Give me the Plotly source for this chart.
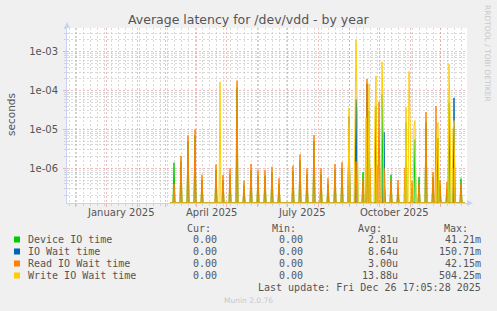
import plotly.graph_objects as go
import pandas as pd
import numpy as np

# ---------------- data ----------------
x_range = ["2024-11-23", "2025-12-28"]
data_start, data_end = "2025-03-06", "2025-12-26"

device_dates = ["2025-03-10", "2025-03-17", "2025-03-24", "2025-03-31", "2025-04-07", "2025-04-21",
                "2025-04-28", "2025-05-05", "2025-05-12", "2025-05-19", "2025-05-26", "2025-06-02",
                "2025-06-09", "2025-06-16", "2025-06-23", "2025-07-07", "2025-07-14", "2025-07-21",
                "2025-07-28", "2025-08-04", "2025-08-11", "2025-08-18", "2025-08-25", "2025-09-01",
                "2025-09-08", "2025-09-09", "2025-09-15", "2025-09-19", "2025-09-21", "2025-09-28",
                "2025-10-04", "2025-10-06", "2025-10-13", "2025-10-20", "2025-10-28", "2025-11-03",
                "2025-11-06", "2025-11-10", "2025-11-17", "2025-11-24", "2025-11-29", "2025-12-01",
                "2025-12-08", "2025-12-10", "2025-12-15", "2025-12-22"]
device_vals = [1.4e-6, 1.5e-6, 5e-6, 7e-6, 5e-7, 9e-7,
               5e-7, 7e-7, 1.2e-4, 3.5e-7, 9e-7, 6.5e-7,
               6.5e-7, 8e-7, 4e-7, 8.5e-7, 1.6e-6, 7e-7,
               5e-6, 7e-7, 4e-7, 9e-7, 1.0e-6, 8e-6,
               5e-5, 3e-5, 8e-7, 5e-5, 3e-5, 4e-5,
               8e-5, 1e-6, 6.9e-7, 3e-7, 1.5e-5, 3e-7,
               5.5e-6, 6e-7, 1.5e-5, 6e-7, 6e-6, 3.5e-7,
               3e-7, 5e-5, 1e-5, 5.5e-7]

iowait_dates = ["2025-09-01", "2025-09-08", "2025-09-19", "2025-10-06", "2025-12-15"]
iowait_vals = [2.2e-5, 6e-5, 1.5e-4, 8.5e-6, 6.5e-5]

read_dates = ["2025-03-10", "2025-03-17", "2025-03-24", "2025-03-31", "2025-04-07", "2025-04-21",
              "2025-04-28", "2025-05-05", "2025-05-12", "2025-05-19", "2025-05-26", "2025-06-02",
              "2025-06-09", "2025-06-16", "2025-06-23", "2025-07-07", "2025-07-14", "2025-07-21",
              "2025-07-28", "2025-08-04", "2025-08-11", "2025-08-18", "2025-08-25", "2025-09-01",
              "2025-09-08", "2025-09-15", "2025-09-19", "2025-09-22", "2025-09-29", "2025-10-01",
              "2025-10-06", "2025-10-13", "2025-10-20", "2025-10-27", "2025-11-03", "2025-11-10",
              "2025-11-17", "2025-11-24", "2025-11-27", "2025-12-01", "2025-12-08", "2025-12-15",
              "2025-12-22"]
read_vals = [4e-7, 2.1e-6, 7e-6, 1.0e-5, 6.9e-7, 1.26e-6,
             6.8e-7, 1.0e-6, 1.8e-4, 4.8e-7, 1.3e-6, 9e-7,
             9e-7, 1.1e-6, 5.6e-7, 1.18e-6, 2.3e-6, 1.0e-6,
             7.2e-6, 1.0e-6, 5.6e-7, 1.3e-6, 1.45e-6, 1.2e-5,
             1.5e-6, 5e-7, 2.0e-4, 1e-6, 1.2e-6, 5.1e-5,
             1.0e-6, 5e-7, 5e-7, 1e-6, 4.7e-7, 4e-7,
             2.8e-5, 8e-7, 4.0e-5, 5e-7, 4.5e-7, 1e-6,
             4e-7]

write_dates = ["2025-04-25", "2025-09-01", "2025-09-07", "2025-09-08", "2025-09-09", "2025-09-18",
               "2025-09-21", "2025-09-27", "2025-09-28", "2025-10-04", "2025-10-05", "2025-10-28",
               "2025-10-31", "2025-11-01", "2025-11-05", "2025-11-06", "2025-11-28", "2025-11-29",
               "2025-12-10", "2025-12-11", "2025-12-14", "2025-12-15"]
write_vals = [1.67e-4, 3.6e-5, 1.5e-5, 2.0e-3, 8e-5, 2e-5,
              1.5e-4, 3e-5, 2.4e-4, 5.5e-4, 4e-5, 3.8e-5,
              3.1e-4, 2e-5, 1.2e-5, 1.7e-5, 1e-5, 1.5e-5,
              4.8e-4, 3e-5, 1e-5, 1.7e-5]

series_names = ["Device IO time", "IO Wait time", "Read IO Wait time", "Write IO Wait time"]
series_colors = ["#00CC00", "#0066B3", "#FF8000", "#FFCC00"]
cur_vals = ["0.00", "0.00", "0.00", "0.00"]
min_vals = ["0.00", "0.00", "0.00", "0.00"]
avg_vals = ["2.81u", "8.64u", "3.00u", "13.88u"]
max_vals = ["41.21m", "150.71m", "42.15m", "504.25m"]

y_tick_vals = [1e-6, 1e-5, 1e-4, 1e-3]
y_tick_text = ["1e-06", "1e-05", "1e-04", "1e-03"]
x_label_dates = ["2025-01-16", "2025-04-16", "2025-07-16", "2025-10-16"]
x_label_text = ["January 2025", "April 2025", "July 2025", "October 2025"]

title = "Average latency for /dev/vdd - by year"
y_title = "seconds"
last_update = "Last update: Fri Dec 26 17:05:28 2025"
footer = "Munin 2.0.76"
side_text = "RRDTOOL / TOBI OETIKER"

# ---------------- layout geometry ----------------
W, H = 497, 311
PL, PR, PT, PB = 67, 467, 28, 203
Y_LOG = [-6.889, -2.391]
FLOOR = 10 ** Y_LOG[0]


def px(x):
    return (x - PL) / (PR - PL)


def py(y):
    return (PB - y) / (PB - PT)


days = pd.date_range(data_start, data_end, freq="D")


def daily(dates, vals):
    s = pd.Series(0.0, index=days)
    for d, v in zip(dates, vals):
        s[pd.Timestamp(d)] = v
    return np.maximum(s.values, FLOOR)


all_series = [daily(device_dates, device_vals), daily(iowait_dates, iowait_vals),
              daily(read_dates, read_vals), daily(write_dates, write_vals)]

fig = go.Figure()
for name, col, ys in zip(series_names, series_colors, all_series):
    fig.add_trace(go.Scatter(x=days, y=ys, mode="lines", name=name,
                             line=dict(color=col, width=1), hoverinfo="skip", showlegend=False))

# grid values
minor_y = [m * 10.0 ** d for d in range(-7, -2) for m in range(2, 10)
           if Y_LOG[0] <= np.log10(m * 10.0 ** d) <= Y_LOG[1]]
month_starts = pd.date_range("2024-12-01", "2025-12-01", freq="MS")
mondays = pd.date_range("2024-11-25", "2025-12-27", freq="7D")

RED = "rgba(235,140,140,0.6)"
GRAY = "rgba(185,185,185,0.55)"
AXIS = "#C9D1F4"
TXT = "#555555"

fig.update_layout(
    width=W, height=H,
    margin=dict(l=PL, r=W - PR, t=PT, b=H - PB),
    paper_bgcolor="#F0F0F0", plot_bgcolor="#FFFFFF",
    font=dict(family="DejaVu Sans", color=TXT, size=10),
    showlegend=False,
    xaxis=dict(type="date", range=x_range, tickvals=list(month_starts), showticklabels=False,
               showgrid=True, gridcolor=RED, griddash="2px,2px", gridwidth=1,
               ticks="outside", ticklen=3, tickcolor=RED,
               minor=dict(tickvals=list(mondays), showgrid=True, gridcolor=GRAY,
                          griddash="2px,2px", ticks="outside", ticklen=2, tickcolor=GRAY),
               showline=True, linecolor=AXIS, linewidth=1, zeroline=False, fixedrange=True),
    yaxis=dict(type="log", range=Y_LOG, tickvals=y_tick_vals, ticktext=y_tick_text,
               tickfont=dict(size=10, color=TXT), showgrid=True, gridcolor=RED,
               griddash="2px,2px", ticks="outside", ticklen=3, tickcolor=RED,
               minor=dict(tickvals=minor_y, showgrid=True, gridcolor=GRAY, griddash="2px,2px",
                          ticks="outside", ticklen=2, tickcolor=GRAY),
               ticklabelstandoff=3,
               showline=True, linecolor=AXIS, linewidth=1, zeroline=False, fixedrange=True),
)

ann = []
for d, t in zip(x_label_dates, x_label_text):
    ann.append(dict(x=d, xref="x", y=py(212.5), yref="paper", text=t, showarrow=False,
                    xanchor="center", yanchor="middle", font=dict(size=10, color=TXT)))
ann.append(dict(x=px(248.5), y=py(19), xref="paper", yref="paper", text=title, showarrow=False,
                xanchor="center", yanchor="middle", font=dict(size=12.5, color=TXT)))
ann.append(dict(x=px(11), y=py(114), xref="paper", yref="paper", text=y_title, showarrow=False,
                textangle=-90, xanchor="center", yanchor="middle", font=dict(size=10.5, color=TXT)))
ann.append(dict(x=px(488), y=py(53), xref="paper", yref="paper", text=side_text, showarrow=False,
                textangle=90, xanchor="center", yanchor="middle",
                font=dict(size=7.5, color="#C8C8C8")))

mono = dict(family="DejaVu Sans Mono", size=10, color=TXT)
hdr_y = 228.3
for t, xr in zip(["Cur:", "Min:", "Avg:", "Max:"], [212.7, 298, 384.3, 470]):
    ann.append(dict(x=px(xr), y=py(hdr_y), xref="paper", yref="paper", text=t, showarrow=False,
                    xanchor="right", yanchor="middle", font=mono))
row_y = [239.5, 251.5, 263.5, 275.5]
shapes = []
for i, name in enumerate(series_names):
    yy = row_y[i]
    ann.append(dict(x=px(26), y=py(yy), xref="paper", yref="paper", text=name, showarrow=False,
                    xanchor="left", yanchor="middle", font=mono))
    for t, xr in zip([cur_vals[i], min_vals[i], avg_vals[i], max_vals[i]], [219.3, 305, 400, 482.7]):
        ann.append(dict(x=px(xr), y=py(yy), xref="paper", yref="paper", text=t, showarrow=False,
                        xanchor="right", yanchor="middle", font=mono))
    shapes.append(dict(type="rect", xref="paper", yref="paper", x0=px(14), x1=px(20),
                       y0=py(yy + 3), y1=py(yy - 3), fillcolor=series_colors[i], line=dict(width=0)))
ann.append(dict(x=px(482.7), y=py(287.3), xref="paper", yref="paper", text=last_update,
                showarrow=False, xanchor="right", yanchor="middle", font=mono))
ann.append(dict(x=px(248), y=py(300), xref="paper", yref="paper", text=footer, showarrow=False,
                xanchor="center", yanchor="middle", font=dict(size=7.5, color="#C8C8C8")))

# axis arrows
shapes.append(dict(type="path", xref="paper", yref="paper",
                   path=f"M {px(64)} {py(28)} L {px(70)} {py(28)} L {px(67)} {py(22)} Z",
                   fillcolor=AXIS, line=dict(width=0)))
shapes.append(dict(type="path", xref="paper", yref="paper",
                   path=f"M {px(467)} {py(200)} L {px(467)} {py(206)} L {px(473)} {py(203)} Z",
                   fillcolor=AXIS, line=dict(width=0)))

fig.update_layout(annotations=ann, shapes=shapes)
fig.write_html("out.html")
